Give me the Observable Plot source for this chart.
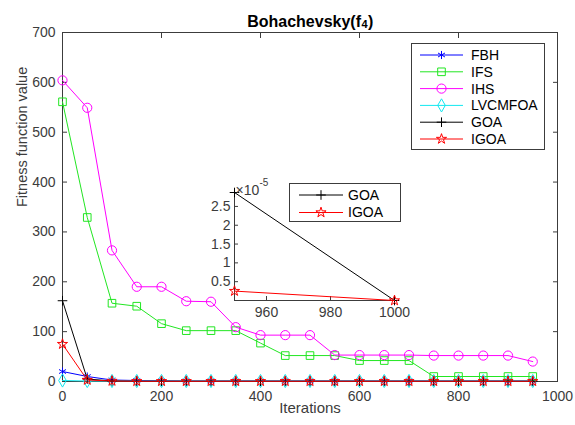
<!DOCTYPE html>
<html>
<head>
<meta charset="utf-8">
<script src="https://cdn.jsdelivr.net/npm/d3@7"></script>
<script src="https://cdn.jsdelivr.net/npm/@observablehq/plot@0.6"></script>
<style>
  body { margin: 0; background: #ffffff; }
  #wrap { position: relative; width: 575px; height: 425px; overflow: hidden; font-family: "Liberation Sans", Arial, sans-serif; }
  #wrap > svg { position: absolute; }
</style>
</head>
<body>
<div id="wrap"></div>
<script>
// ---------- data ----------
const iterations = [0, 50, 100, 150, 200, 250, 300, 350, 400, 450, 500, 550, 600, 650, 700, 750, 800, 850, 900, 950];
const seriesNames = ["FBH", "IFS", "IHS", "LVCMFOA", "GOA", "IGOA"];
const FBH     = [20, 10, 3, 2, 1.5, 1, 1, 1, 1, 1, 1, 1, 1, 1, 1, 1, 1, 1, 1, 1];
const IFS     = [561, 329, 157, 151, 116, 102, 102, 102, 77, 52, 52, 52, 42, 42, 42, 10, 10, 10, 10, 10];
const IHS     = [604, 549, 263, 190, 190, 161, 160, 109, 93, 93, 93, 53, 53, 53, 53, 52, 52, 52, 52, 40];
const LVCMFOA = [2, 1, 1, 1, 1, 1, 1, 1, 1, 1, 1, 1, 1, 1, 1, 1, 1, 1, 1, 1];
const GOA     = [162, 5, 1, 0.5, 0.5, 0.5, 0.5, 0.5, 0.5, 0.5, 0.5, 0.5, 0.5, 0.5, 0.5, 0.5, 0.5, 0.5, 0.5, 0.5];
const IGOA    = [75, 3, 1, 0.5, 0.5, 0.5, 0.5, 0.5, 0.5, 0.5, 0.5, 0.5, 0.5, 0.5, 0.5, 0.5, 0.5, 0.5, 0.5, 0.5];

const insetIterations = [950, 1000];
const insetSeries = ["GOA", "IGOA"];
const insetGOA  = [2.87e-5, 0];
const insetIGOA = [0.25e-5, 0];

const mainXTicks = [0, 200, 400, 600, 800, 1000];
const mainYTicks = [0, 100, 200, 300, 400, 500, 600, 700];
const insetXTicks = [960, 980, 1000];
const insetYTicks = [0.5e-5, 1e-5, 1.5e-5, 2e-5, 2.5e-5];

const titleMain = "Bohachevsky(f";
const titleSub = "4";
const titleEnd = ")";
const xLabel = "Iterations";
const yLabel = "Fitness function value";
const exponentBase = "×10";
const exponentPower = "-5";

// ---------- styles ----------
const values = {FBH, IFS, IHS, LVCMFOA, GOA, IGOA};
const insetValues = {GOA: insetGOA, IGOA: insetIGOA};
const styleOf = {
  FBH:     {color: "#0000ff", symbol: "asterisk", r: 3.8},
  IFS:     {color: "#22e622", symbol: "square",   r: 4.3},
  IHS:     {color: "#ff00ff", symbol: "circle",   r: 4.6},
  LVCMFOA: {color: "#11e8f0", symbol: "diamond",  r: 4.0},
  GOA:     {color: "#000000", symbol: "plus",     r: 3.2},
  IGOA:    {color: "#ff0000", symbol: "star",     r: 3.2}
};
const axisColor = "#3c3c3c";
const fontFamily = '"Liberation Sans", Arial, sans-serif';

const wrap = document.getElementById("wrap");

// ---------- main plot ----------
const rows = seriesNames.flatMap(name => iterations.map((x, i) => ({series: name, x, y: values[name][i]})));

const mainMarks = [
  Plot.frame({stroke: axisColor}),
  Plot.axisX({ticks: mainXTicks, tickSize: -5, tickPadding: 15, label: null, color: axisColor, fontSize: 14, tickFormat: d => String(d)}),
  Plot.axisX({anchor: "top", ticks: mainXTicks, tickSize: -5, fill: "none", label: null, color: axisColor}),
  Plot.axisY({ticks: mainYTicks, tickSize: -5, tickPadding: 12, label: null, color: axisColor, fontSize: 14, tickFormat: d => String(d)}),
  Plot.axisY({anchor: "right", ticks: mainYTicks, tickSize: -5, fill: "none", label: null, color: axisColor})
];
for (const name of seriesNames) {
  const d = rows.filter(r => r.series === name);
  const st = styleOf[name];
  mainMarks.push(Plot.line(d, {x: "x", y: "y", stroke: st.color, strokeWidth: 1}));
  mainMarks.push(Plot.dot(d, {x: "x", y: "y", symbol: st.symbol, r: st.r, stroke: st.color, fill: "none", strokeWidth: 1}));
}
mainMarks.push(
  Plot.text([titleMain], {frameAnchor: "top", textAnchor: "end", dx: 51, dy: -17, fontWeight: "bold", fontSize: 16, fill: "#000"}),
  Plot.text([titleSub], {frameAnchor: "top", textAnchor: "start", dx: 51.5, dy: -12, fontWeight: "bold", fontSize: 11, fill: "#000"}),
  Plot.text([titleEnd], {frameAnchor: "top", textAnchor: "start", dx: 58, dy: -17, fontWeight: "bold", fontSize: 16, fill: "#000"}),
  Plot.text([xLabel], {frameAnchor: "bottom", dy: 31, fontSize: 15, fill: axisColor}),
  Plot.text([yLabel], {frameAnchor: "left", dx: -40, rotate: -90, fontSize: 14.5, fill: axisColor})
);

const mainPlot = Plot.plot({
  width: 575,
  height: 425,
  marginLeft: 62,
  marginRight: 18,
  marginTop: 32,
  marginBottom: 44,
  x: {domain: [0, 1000]},
  y: {domain: [0, 700]},
  style: {fontFamily, fontSize: "14px", background: "transparent", overflow: "visible"},
  marks: mainMarks
});
mainPlot.style.left = "0px";
mainPlot.style.top = "0px";
wrap.appendChild(mainPlot);

// ---------- inset plot ----------
const insetRows = insetSeries.flatMap(name => insetIterations.map((x, i) => ({series: name, x, y: insetValues[name][i]})));
const insetMarks = [
  Plot.frame({fill: "#ffffff", stroke: "none"}),
  Plot.ruleY([0], {stroke: axisColor}),
  Plot.ruleX([insetIterations[0]], {stroke: axisColor}),
  Plot.axisX({ticks: insetXTicks, tickSize: -4, tickPadding: 11, label: null, color: axisColor, fontSize: 14, tickFormat: d => String(d)}),
  Plot.axisY({ticks: insetYTicks, tickSize: -4, tickPadding: 8, label: null, color: axisColor, fontSize: 14,
              tickFormat: d => String(+(d * 1e5).toFixed(1))})
];
for (const name of insetSeries) {
  const d = insetRows.filter(r => r.series === name);
  const st = styleOf[name];
  insetMarks.push(Plot.line(d, {x: "x", y: "y", stroke: st.color, strokeWidth: 1}));
  insetMarks.push(Plot.dot(d, {x: "x", y: "y", symbol: st.symbol, r: st.r, stroke: st.color, fill: "none", strokeWidth: 1}));
}
insetMarks.push(
  Plot.text([exponentBase], {frameAnchor: "top-left", textAnchor: "start", dx: 1, dy: -7, fontSize: 14, fill: axisColor}),
  Plot.text([exponentPower], {frameAnchor: "top-left", textAnchor: "start", dx: 25, dy: -14, fontSize: 10, fill: axisColor})
);
const insetPlot = Plot.plot({
  width: 215,
  height: 160,
  marginLeft: 44,
  marginRight: 11,
  marginTop: 22,
  marginBottom: 30,
  x: {domain: [950, 1000]},
  y: {domain: [0, 2.87e-5]},
  style: {fontFamily, fontSize: "14px", background: "transparent", overflow: "visible"},
  marks: insetMarks
});
insetPlot.style.left = "190px";
insetPlot.style.top = "170px";
wrap.appendChild(insetPlot);

// ---------- legends ----------
const symbolMap = {
  asterisk: d3.symbolAsterisk, square: d3.symbolSquare, circle: d3.symbolCircle,
  diamond: d3.symbolDiamond, plus: d3.symbolPlus, star: d3.symbolStar
};
function makeLegend(names, left, top, w, h, rowY, lineX0, lineX1, textX) {
  const svg = d3.create("svg")
    .attr("width", w).attr("height", h)
    .style("left", left + "px").style("top", top + "px")
    .style("position", "absolute");
  svg.append("rect").attr("x", 0.5).attr("y", 0.5).attr("width", w - 1).attr("height", h - 1)
    .attr("fill", "#ffffff").attr("stroke", axisColor).attr("stroke-width", 1);
  names.forEach((name, i) => {
    const st = styleOf[name];
    const y = rowY(i);
    svg.append("line").attr("x1", lineX0).attr("x2", lineX1).attr("y1", y).attr("y2", y)
      .attr("stroke", st.color).attr("stroke-width", 1);
    svg.append("path")
      .attr("d", d3.symbol(symbolMap[st.symbol], st.r * st.r * Math.PI)())
      .attr("transform", `translate(${(lineX0 + lineX1) / 2},${y})`)
      .attr("fill", "none").attr("stroke", st.color).attr("stroke-width", 1);
    svg.append("text").attr("x", textX).attr("y", y).attr("dy", "0.35em")
      .attr("font-family", fontFamily).attr("font-size", 14).attr("fill", "#000")
      .text(name);
  });
  wrap.appendChild(svg.node());
}
makeLegend(seriesNames, 411, 43, 134, 107, i => 12 + i * 16.8, 9, 52, 60);
makeLegend(insetSeries, 289, 183, 112, 39, i => 12 + i * 17.5, 10, 54, 59);
</script>
</body>
</html>
